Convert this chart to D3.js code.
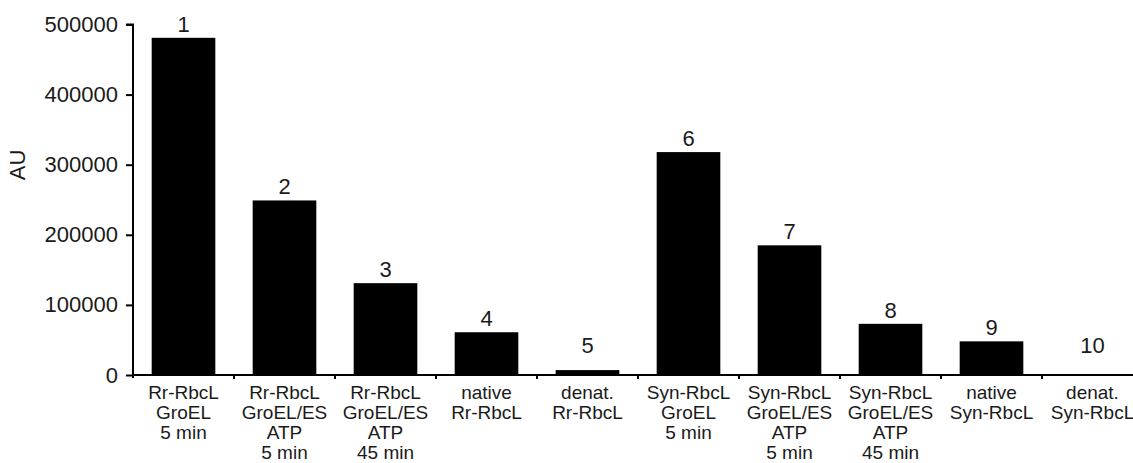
<!DOCTYPE html>
<html>
<head>
<meta charset="utf-8">
<script src="https://cdn.jsdelivr.net/npm/d3@7"></script>
<style>
  body { margin: 0; background: #fff; }
  text { font-family: "Liberation Sans", Arial, sans-serif; fill: #1a1a1a; }
</style>
</head>
<body>
<div id="chart"></div>
<script>
// lane numbers, label lines and measured signal (AU)
const lanes = ["1", "2", "3", "4", "5", "6", "7", "8", "9", "10"];
const laneLabels = [
  ["Rr-RbcL", "GroEL", "5 min"],
  ["Rr-RbcL", "GroEL/ES", "ATP", "5 min"],
  ["Rr-RbcL", "GroEL/ES", "ATP", "45 min"],
  ["native", "Rr-RbcL"],
  ["denat.", "Rr-RbcL"],
  ["Syn-RbcL", "GroEL", "5 min"],
  ["Syn-RbcL", "GroEL/ES", "ATP", "5 min"],
  ["Syn-RbcL", "GroEL/ES", "ATP", "45 min"],
  ["native", "Syn-RbcL"],
  ["denat.", "Syn-RbcL"]
];
const values = [481000, 249000, 131000, 61000, 7000, 318000, 185000, 73000, 48000, 0];
const yTicks = [0, 100000, 200000, 300000, 400000, 500000];

const W = 1133, H = 463;
const margin = {top: 24.5, left: 133, bottom: 88};
const plotRight = 1143;

const svg = d3.select("#chart").append("svg")
  .attr("width", W)
  .attr("height", H);

const x = d3.scaleBand()
  .domain(lanes)
  .range([margin.left, plotRight])
  .paddingInner(0.37)
  .paddingOuter(0.185);

const y = d3.scaleLinear()
  .domain([0, 500000])
  .range([H - margin.bottom, margin.top]);

const y0 = y(0);

// bars
svg.selectAll("rect.bar")
  .data(values)
  .join("rect")
    .attr("class", "bar")
    .attr("x", (d, i) => x(lanes[i]))
    .attr("y", d => y(d))
    .attr("width", x.bandwidth())
    .attr("height", d => y0 - y(d))
    .attr("fill", "#000");

// lane numbers above bars
svg.selectAll("text.num")
  .data(values)
  .join("text")
    .attr("class", "num")
    .attr("x", (d, i) => x(lanes[i]) + x.bandwidth() / 2)
    .attr("y", d => Math.min(y(d) - 6, y0 - 22))
    .attr("text-anchor", "middle")
    .style("font-size", "22px")
    .text((d, i) => lanes[i]);

// x axis: baseline with small ticks between lanes
const step = x.step();
svg.append("line")
  .attr("x1", margin.left).attr("x2", plotRight)
  .attr("y1", y0).attr("y2", y0)
  .attr("stroke", "#000").attr("stroke-width", 2);

svg.selectAll("line.xtick")
  .data(lanes.slice(1))
  .join("line")
    .attr("class", "xtick")
    .attr("x1", d => x(d) + x.bandwidth() / 2 - step / 2)
    .attr("x2", d => x(d) + x.bandwidth() / 2 - step / 2)
    .attr("y1", y0).attr("y2", y0 + 4)
    .attr("stroke", "#000").attr("stroke-width", 2);

// category labels
const cat = svg.append("g");
laneLabels.forEach((lines, i) => {
  const t = cat.append("text")
    .attr("text-anchor", "middle")
    .attr("x", x(lanes[i]) + x.bandwidth() / 2)
    .attr("y", y0 + 24)
    .style("font-size", "19px");
  lines.forEach((s, j) => {
    t.append("tspan")
      .attr("x", x(lanes[i]) + x.bandwidth() / 2)
      .attr("dy", j === 0 ? 0 : 20)
      .text(s);
  });
});

// y axis
const yAxis = svg.append("g")
  .attr("transform", `translate(${margin.left},0)`)
  .call(d3.axisLeft(y).tickValues(yTicks).tickFormat(d3.format("d")).tickSize(7).tickPadding(8));

yAxis.select(".domain").attr("stroke-width", 2).attr("d", `M-7,${y(500000)}H0V${y0 + 3}`);
yAxis.selectAll(".tick line").attr("stroke-width", 2);
yAxis.selectAll(".tick text")
  .style("font-family", "'Liberation Sans', Arial, sans-serif")
  .style("font-size", "22px")
  .attr("fill", "#1a1a1a");

// y axis title
svg.append("text")
  .attr("transform", `translate(25,165) rotate(-90)`)
  .attr("text-anchor", "middle")
  .style("font-size", "22px")
  .text("AU");
</script>
</body>
</html>
